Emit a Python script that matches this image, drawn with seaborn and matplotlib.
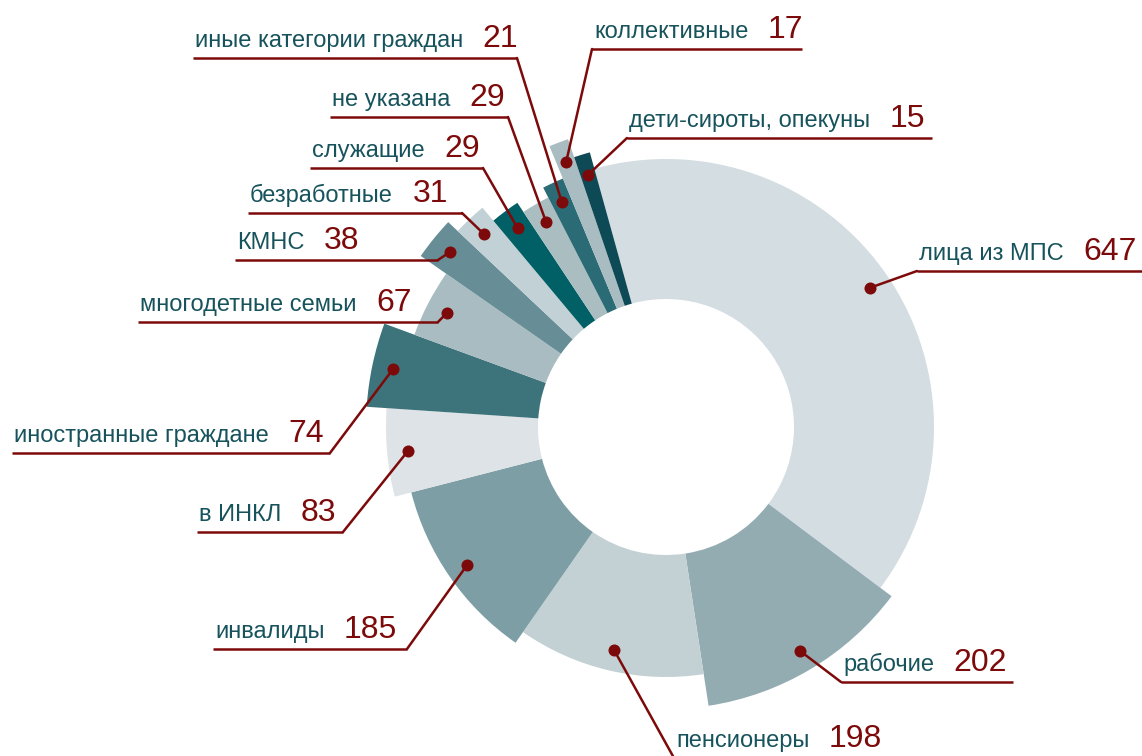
import numpy as np
import matplotlib
matplotlib.use("Agg")
import matplotlib.pyplot as plt
import seaborn as sns

sns.set_style("white")
plt.rcParams['font.family'] = ['Liberation Sans', 'DejaVu Sans']

# categories in clockwise order, starting from "лица из МПС"
labels = ["лица из МПС", "рабочие", "пенсионеры", "инвалиды", "в ИНКЛ",
          "иностранные граждане", "многодетные семьи", "КМНС", "безработные",
          "служащие", "не указана", "иные категории граждан", "коллективные",
          "дети-сироты, опекуны"]
values = [647, 202, 198, 185, 83, 74, 67, 38, 31, 29, 29, 21, 17, 15]
# outer radius of each slice (inner radius = 128)
radius = [268, 282, 250, 263, 280, 300, 268, 299, 286, 269, 258, 269, 304, 285]
colors = ["#d4dde1", "#93acb2", "#c3d1d5", "#7c9ea4", "#dde3e6", "#3d737b",
          "#a9bcc1", "#678e96", "#c2d1d5", "#006066", "#aabdc1", "#2a6b75",
          "#a9bcc1", "#0e4a55"]

# label underline: left x, right x, y (pixels), side where the leader joins
layout = [(917, 1142, 271, 'l'), (841, 1013, 682, 'l'), (674, 900, 758, 'l'),
          (213, 407, 649, 'r'), (197, 343, 532, 'r'), (12, 330, 453, 'r'),
          (138, 438, 322, 'r'), (235, 438, 260, 'r'), (248, 462, 213, 'r'),
          (310, 483, 168, 'r'), (330, 508, 117, 'r'), (193, 517, 58, 'r'),
          (592, 802, 49, 'l'), (627, 932, 138, 'l')]

W, H = 1142, 756
cx, cy, R = 666, 427, 320
inner = 128
start = np.radians(-15.5)
red = "#7d0a0a"
teal = "#17535c"

fig = plt.figure(figsize=(W / 100, H / 100), dpi=100)
ax = fig.add_axes([(cx - R) / W, (H - cy - R) / H, 2 * R / W, 2 * R / H],
                  projection='polar')
ax.set_theta_zero_location('N')
ax.set_theta_direction(-1)
ax.set_ylim(0, R)
ax.set_axis_off()

vals = np.array(values, dtype=float)
widths = vals / vals.sum() * 2 * np.pi
thetas = start + np.concatenate([[0], np.cumsum(widths)[:-1]])
heights = np.array(radius) - inner
ax.bar(thetas, heights, width=widths, bottom=inner, align='edge',
       color=colors, edgecolor='none', linewidth=0)

mids = thetas + widths / 2
rdot = np.array(radius) - 21
ax.scatter(mids, rdot, s=75, color=red, zorder=5, linewidths=0)

ov = fig.add_axes([0, 0, 1, 1], zorder=3)
ov.set_xlim(0, W)
ov.set_ylim(H, 0)
ov.set_axis_off()
ov.patch.set_alpha(0)

for lab, v, m, rd, (x0, x1, y, side) in zip(labels, values, mids, rdot, layout):
    ov.plot([x0, x1], [y, y], color=red, lw=1.8, solid_capstyle='butt')
    ex = x0 if side == 'l' else x1
    ax.annotate("", xy=(m, rd), xycoords='data', xytext=(ex, y),
                textcoords=ov.transData,
                arrowprops=dict(arrowstyle='-', color=red, lw=1.8,
                                shrinkA=0, shrinkB=0))
    t = ov.text(x0 + 2, y - 11, lab, color=teal, fontsize=17,
                ha='left', va='baseline')
    ov.annotate(str(v), xy=(1, y - 11), xycoords=(t, ov.transData),
                xytext=(14, 0), textcoords='offset points', color=red,
                fontsize=23, ha='left', va='baseline')

fig.savefig("out.png", dpi=100)
